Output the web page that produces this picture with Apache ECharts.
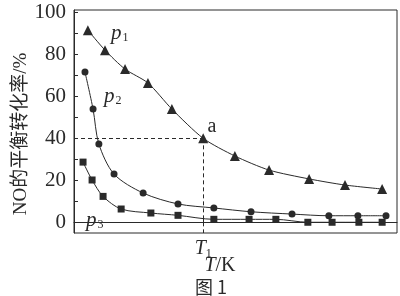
<!DOCTYPE html>
<html>
<head>
<meta charset="utf-8">
<script src="https://cdn.jsdelivr.net/npm/echarts@6/dist/echarts.min.js"></script>
<style>html,body{margin:0;padding:0;background:#fff}#c{width:400px;height:296px}</style>
</head>
<body>
<div id="c"></div>
<script>
// Temperature positions (relative units, T1 = 40) and NO conversion (%)
var T_p1 = [4.3, 9.6, 15.8, 22.9, 30.3, 40, 49.8, 60.4, 72.8, 83.9, 95.4];
var NO_p1 = [91.4, 81.9, 72.9, 66.3, 53.9, 40, 31.6, 24.9, 20.7, 17.8, 15.9];
var T_p2 = [3.4, 5.9, 7.7, 12.4, 21.4, 32.2, 43.3, 54.8, 67.5, 78.9, 87.9, 96.6];
var NO_p2 = [71.5, 53.9, 37.3, 23, 14, 8.8, 6.9, 5.1, 4.0, 3.2, 3.2, 3.2];
var T_p3 = [2.8, 5.6, 9.0, 14.6, 23.8, 32.2, 43.3, 54.2, 62.5, 72.4, 79.9, 88.2, 95.4];
var NO_p3 = [28.7, 20.2, 12.4, 6.4, 4.5, 3.4, 1.5, 1.5, 1.5, 0.1, 0.1, 0.1, 0.1];
var T1 = 40;
var pointA = 40;
var yLabelTicks = [0, 20, 40, 60, 80, 100];
var yMinorTicks = [0, 10, 20, 30, 40, 50, 60, 70, 80, 90, 100];

function pairs(xs, ys) { return xs.map(function (x, i) { return [x, ys[i]]; }); }

var ink = '#2a2a2a';
var serif = 'Liberation Serif';
var chart = echarts.init(document.getElementById('c'), null, {renderer: 'canvas'});
chart.setOption({
  animation: false,
  backgroundColor: '#fff',
  grid: {left: 74, right: 3, top: 10, bottom: 63, show: true, borderColor: ink, borderWidth: 1, backgroundColor: 'transparent'},
  xAxis: {
    type: 'value', min: 0, max: 100,
    axisLine: {show: true, lineStyle: {color: ink, width: 1}},
    axisTick: {show: true, inside: true, length: 4, customValues: [T1], lineStyle: {color: ink}},
    axisLabel: {
      show: true, customValues: [T1], margin: 4,
      formatter: function () { return '{t|T}{s|1}'; },
      rich: {
        t: {fontFamily: serif, fontStyle: 'italic', fontSize: 20, color: ink},
        s: {fontFamily: serif, fontSize: 12, color: ink, padding: [11, 0, 0, 0]}
      }
    },
    splitLine: {show: false}
  },
  yAxis: {
    type: 'value', min: -5, max: 101,
    axisLine: {show: true, lineStyle: {color: ink, width: 1}},
    axisTick: {show: true, inside: true, length: 4, customValues: yMinorTicks, lineStyle: {color: ink}},
    axisLabel: {show: true, customValues: yLabelTicks, margin: 8, fontFamily: serif, fontSize: 21, color: ink},
    splitLine: {show: false}
  },
  graphic: [
    {type: 'text', x: 21, y: 134, rotation: Math.PI / 2,
     style: {text: 'NO的平衡转化率/%', font: '19px "Liberation Serif", "Noto Sans CJK SC"', fill: ink, align: 'center', verticalAlign: 'middle'}},
    {type: 'text', x: 111, y: 33, style: {text: '{p|p}{s|1}', rich: {p: {fontFamily: serif, fontStyle: 'italic', fontSize: 21, fill: ink}, s: {fontFamily: serif, fontSize: 12, fill: ink, padding: [9, 0, 0, 1]}}, verticalAlign: 'middle'}},
    {type: 'text', x: 104, y: 96, style: {text: '{p|p}{s|2}', rich: {p: {fontFamily: serif, fontStyle: 'italic', fontSize: 21, fill: ink}, s: {fontFamily: serif, fontSize: 12, fill: ink, padding: [9, 0, 0, 1]}}, verticalAlign: 'middle'}},
    {type: 'text', x: 86, y: 220, style: {text: '{p|p}{s|3}', rich: {p: {fontFamily: serif, fontStyle: 'italic', fontSize: 21, fill: ink}, s: {fontFamily: serif, fontSize: 12, fill: ink, padding: [9, 0, 0, 1]}}, verticalAlign: 'middle'}},
    {type: 'text', x: 212, y: 127, style: {text: 'a', font: '20px "Liberation Serif"', fill: ink, align: 'center', verticalAlign: 'middle'}},
    {type: 'text', x: 220, y: 266, style: {text: '{t|T}{n|/K}', rich: {t: {fontFamily: serif, fontStyle: 'italic', fontSize: 20, fill: ink}, n: {fontFamily: serif, fontSize: 20, fill: ink}}, align: 'center', verticalAlign: 'middle'}},
    {type: 'text', x: 211, y: 287, style: {text: '图 1', font: '18px "Noto Sans CJK SC", "Liberation Serif"', fill: ink, align: 'center', verticalAlign: 'middle'}}
  ],
  series: [
    {
      name: 'p1', type: 'line', data: pairs(T_p1, NO_p1), smooth: 0.25,
      symbol: 'triangle', symbolSize: 10, itemStyle: {color: ink}, lineStyle: {color: ink, width: 1},
      markLine: {
        silent: true, symbol: 'none', label: {show: false},
        lineStyle: {color: ink, width: 1, type: [4, 3]},
        data: [
          [{coord: [0, pointA]}, {coord: [T1, pointA]}],
          [{coord: [T1, pointA]}, {coord: [T1, -5]}]
        ]
      }
    },
    {
      name: 'p2', type: 'line', data: pairs(T_p2, NO_p2), smooth: 0.3,
      symbol: 'circle', symbolSize: 7, itemStyle: {color: ink}, lineStyle: {color: ink, width: 1}
    },
    {
      name: 'p3', type: 'line', data: pairs(T_p3, NO_p3), smooth: 0.3,
      symbol: 'rect', symbolSize: 7, itemStyle: {color: ink}, lineStyle: {color: ink, width: 1}
    }
  ]
});
</script>
</body>
</html>
